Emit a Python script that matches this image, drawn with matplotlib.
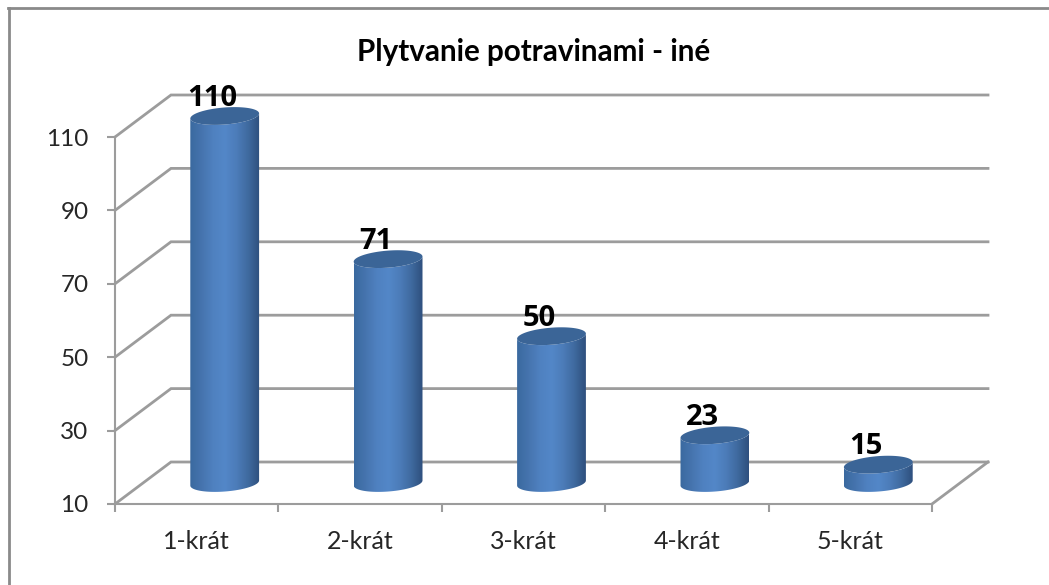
import numpy as np
import matplotlib
matplotlib.use('Agg')
import matplotlib.pyplot as plt
from matplotlib.colors import LinearSegmentedColormap
from matplotlib.patches import Polygon, PathPatch
from matplotlib.path import Path

title = 'Plytvanie potravinami - iné'
categories = ['1-krát', '2-krát', '3-krát', '4-krát', '5-krát']
values = [110, 71, 50, 23, 15]
y_ticks = [10, 30, 50, 70, 90, 110]

W, H = 1049, 585
LEFT, RIGHT, BOTTOM, TOP = 115, 932, 504, 137   # front plane in pixels
DEPTH_X, DEPTH_Y = 56, 42                       # 3d depth in pixels
GRID = '#9c9c9c'
TEXT = '#262626'

plt.rcParams['font.family'] = ['Lato', 'DejaVu Sans']

fig = plt.figure(figsize=(W / 100, H / 100), dpi=100)
ax = fig.add_axes([LEFT / W, 1 - BOTTOM / H, (RIGHT - LEFT) / W, (BOTTOM - TOP) / H])
ax.set_xlim(0, len(categories))
ax.set_ylim(y_ticks[0], y_ticks[-1])
ax.patch.set_alpha(0)

# pixels -> data units
sx = len(categories) / (RIGHT - LEFT)
sy = (y_ticks[-1] - y_ticks[0]) / (BOTTOM - TOP)
dx = DEPTH_X * sx
dy = DEPTH_Y * sy

# back wall and side wall lines
for v in y_ticks:
    ax.plot([0, dx, len(categories) + dx], [v, v + dy, v + dy], color=GRID, lw=2,
            clip_on=False, zorder=1, solid_joinstyle='miter')
ax.plot([len(categories), len(categories) + dx], [y_ticks[0], y_ticks[0] + dy],
        color=GRID, lw=2, clip_on=False, zorder=1)

for s in ['top', 'right']:
    ax.spines[s].set_visible(False)
for s in ['left', 'bottom']:
    ax.spines[s].set_color(GRID)
    ax.spines[s].set_linewidth(1.5)
    ax.spines[s].set_zorder(2)

ax.set_yticks(y_ticks)
ax.set_xticks(range(len(categories) + 1))
ax.set_xticklabels([])
ax.set_xticks([i + 0.5 for i in range(len(categories))], minor=True)
ax.set_xticklabels(categories, minor=True, fontsize=18, color=TEXT)
ax.tick_params(axis='x', which='major', length=6, width=1.5, color=GRID)
ax.tick_params(axis='x', which='minor', length=0, pad=19)
ax.tick_params(axis='y', length=6, width=1.5, color=GRID, labelsize=17.5,
               labelcolor=TEXT, pad=13)

# cylinders
shade = LinearSegmentedColormap.from_list(
    'cyl', ['#3a699f', '#4674ae', '#4f81c0', '#5387c8', '#4c7cb9', '#3f6a9f', '#2e4f7d'])
gradient = np.linspace(0, 1, 256).reshape(1, -1)
a_px, b_px, tilt = 34.5, 8.5, np.radians(4.5)


def ring(cx, cy, t):
    ex = a_px * np.cos(t) * np.cos(tilt) + b_px * np.sin(t) * np.sin(tilt)
    ey = a_px * np.cos(t) * np.sin(tilt) - b_px * np.sin(t) * np.cos(tilt)
    return np.column_stack([cx + ex * sx, cy + ey * sy])


t_all = np.linspace(0, 2 * np.pi, 120)
t_half = np.linspace(np.pi, 0, 60)
for i, v in enumerate(values):
    cx = i + 0.5 + dx / 2
    y0 = y_ticks[0] + dy / 2
    y1 = v + dy / 2
    # lower edge of the bottom ring, left to right, then back along the top ring
    body = np.vstack([ring(cx, y0, t_half), ring(cx, y1, t_half[::-1])])
    im = ax.imshow(gradient, extent=[cx - a_px * sx, cx + a_px * sx, y0 - 12 * sy, y1 + 12 * sy],
                   aspect='auto', cmap=shade, zorder=3)
    clip = PathPatch(Path(np.vstack([body, body[:1]])), transform=ax.transData, fc='none', ec='none')
    ax.add_patch(clip)
    im.set_clip_path(clip)
    im.set_clip_box(fig.bbox)
    ax.add_patch(Polygon(ring(cx, y1, t_all), closed=True, fc='#3b6597', ec='none', zorder=4, clip_on=False))
    ax.annotate(str(v), (cx, y1), xytext=(-12, 18), textcoords='offset pixels', ha='center',
                va='center', fontsize=21, fontweight='bold', family='Open Sans', color='black',
                zorder=5, annotation_clip=False)

ax.set_xlim(0, len(categories))
ax.set_ylim(y_ticks[0], y_ticks[-1])

fig.text(534 / W, 1 - 52 / H, title, ha='center', va='center', fontsize=21.3,
         fontweight='bold', color='black')

# chart frame
fig.add_artist(plt.Line2D([8.5 / W, 8.5 / W], [0, 1 - 8 / H], color='#8a8a8a', lw=2))
fig.add_artist(plt.Line2D([8 / W, 1], [1 - 8 / H, 1 - 8 / H], color='#8a8a8a', lw=2))

fig.savefig('out.png', dpi=100)
